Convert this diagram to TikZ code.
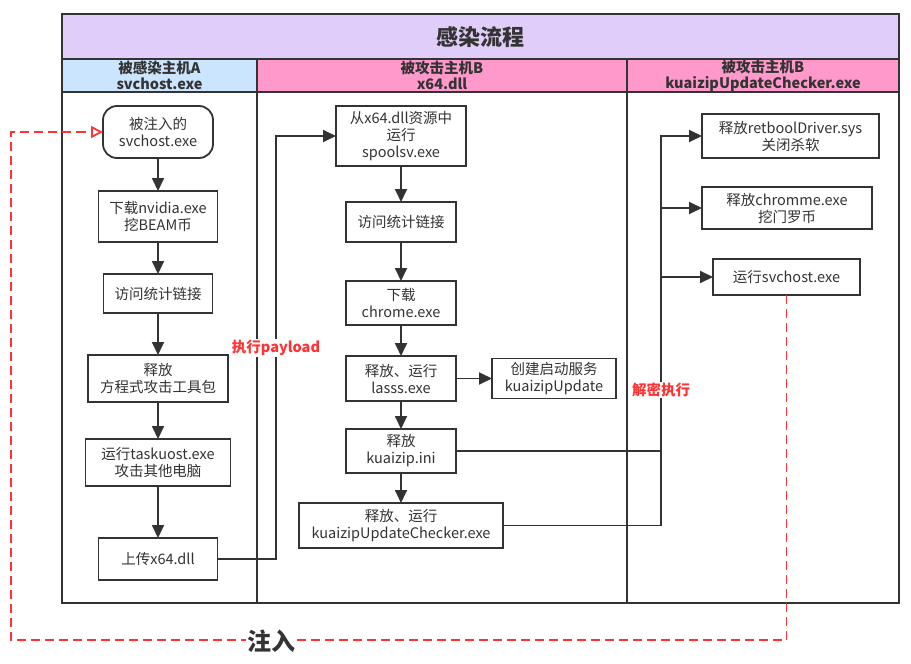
\documentclass[tikz,border=0pt]{standalone}
\usepackage{fontspec}
\setmainfont{Noto Sans CJK SC}
\usetikzlibrary{arrows.meta,positioning}
\definecolor{mypurple}{RGB}{225,205,250}
\definecolor{myblue}{RGB}{204,229,255}
\definecolor{mypink}{RGB}{255,153,204}
\definecolor{myred}{RGB}{255,51,51}
\definecolor{mydark}{RGB}{51,51,51}
\tikzset{
  stepbox/.style={rectangle, draw=mydark, line width=1.8pt, fill=white, align=center, inner sep=1pt, outer sep=0pt, text=mydark, font=\fontsize{14.5}{17}\selectfont},
  startbox/.style={stepbox, rounded corners=14pt},
  lane/.style={draw=mydark, line width=1.8pt},
  head/.style={align=center, inner sep=0pt, text=mydark, font=\fontsize{14.5}{16}\selectfont\bfseries},
  flow/.style={draw=mydark, line width=1.8pt, -{Triangle[length=13pt,width=12pt]}},
  wire/.style={draw=mydark, line width=1.8pt},
  inject/.style={draw=myred, line width=1.8pt, dash pattern=on 9pt off 5pt, -{Triangle[open,length=12pt,width=12pt]}},
  tag/.style={fill=white, inner sep=1pt, text=myred, font=\fontsize{14.5}{16}\selectfont\bfseries}
}

\begin{document}
\begin{tikzpicture}[x=1pt,y=-1pt]
\useasboundingbox (0,0) rectangle (911,664);

% lanes
\draw[lane, fill=mypurple] (62,14) rectangle (899,59);
\draw[lane, fill=myblue] (62,59) rectangle (257,92);
\draw[lane, fill=mypink] (257,59) rectangle (627,92);
\draw[lane, fill=mypink] (627,59) rectangle (899,92);
\draw[lane] (62,92) rectangle (257,603);
\draw[lane] (257,92) rectangle (627,603);
\draw[lane] (627,92) rectangle (899,603);

\node[text=mydark, font=\fontsize{22}{26}\selectfont\bfseries] (title) at (480.5,37) {感染流程};
\node[head] (hostA) at (159.5,75.5) {被感染主机A\\svchost.exe};
\node[head] (hostB) at (442,75.5) {被攻击主机B\\x64.dll};
\node[head] (hostC) at (763,75.5) {被攻击主机B\\kuaizipUpdateChecker.exe};

% host A
\node[startbox, minimum width=110pt, minimum height=52pt] (inj) at (158,132) {被注入的\\svchost.exe};
\node[stepbox, minimum width=119pt, minimum height=51pt, below=33pt of inj] (nvidia) {下载nvidia.exe\\挖BEAM币};
\node[stepbox, minimum width=109pt, minimum height=39pt, below=32pt of nvidia] (visitA) {访问统计链接};
\node[stepbox, minimum width=140pt, minimum height=47pt, below=42pt of visitA] (toolkit) {释放\\方程式攻击工具包};
\node[stepbox, minimum width=145pt, minimum height=47pt, below=37pt of toolkit] (taskuost) {运行taskuost.exe\\攻击其他电脑};
\node[stepbox, minimum width=119pt, minimum height=42pt, below=52pt of taskuost] (upload) {上传x64.dll};

% host B, x64.dll
\node[stepbox, minimum width=130pt, minimum height=60pt] (spool) at (401,136) {从x64.dll资源中\\运行\\spoolsv.exe};
\node[stepbox, minimum width=110pt, minimum height=40pt, below=36pt of spool] (visitB) {访问统计链接};
\node[stepbox, minimum width=110pt, minimum height=44pt, below=39pt of visitB] (chrome) {下载\\chrome.exe};
\node[stepbox, minimum width=110pt, minimum height=45pt, below=31pt of chrome] (lasss) {释放、运行\\lasss.exe};
\node[stepbox, minimum width=124pt, minimum height=40pt, right=36pt of lasss] (service) {创建启动服务\\kuaizipUpdate};
\node[stepbox, minimum width=110pt, minimum height=44pt, below=28pt of lasss] (ini) {释放\\kuaizip.ini};
\node[stepbox, minimum width=204pt, minimum height=45pt, below=30pt of ini] (checker) {释放、运行\\kuaizipUpdateChecker.exe};

% host B, checker
\node[stepbox, minimum width=177pt, minimum height=44pt] (retbool) at (790.5,136) {释放retboolDriver.sys\\关闭杀软};
\node[stepbox, minimum width=170pt, minimum height=42pt] (chromme) at (787,208) {释放chromme.exe\\挖门罗币};
\node[stepbox, minimum width=147pt, minimum height=36pt] (svc) at (786.5,277) {运行svchost.exe};

% arrows
\draw[flow] (inj) -- (nvidia);
\draw[flow] (nvidia) -- (visitA);
\draw[flow] (visitA) -- (toolkit);
\draw[flow] (toolkit) -- (taskuost);
\draw[flow] (taskuost) -- (upload);

\coordinate (relay) at (276,0);
\draw[flow] (upload.east) -- (upload.east -| relay) |- (spool.west);
\node[tag] (exec) at (276,348) {执行payload};

\draw[flow] (spool) -- (visitB);
\draw[flow] (visitB) -- (chrome);
\draw[flow] (chrome) -- (lasss);
\draw[flow] (lasss) -- (service);
\draw[flow] (lasss) -- (ini);
\draw[flow] (ini) -- (checker);

\coordinate (bus) at (661,0);
\draw[flow] (checker.east) -- (checker.east -| bus) |- (retbool.west);
\draw[wire] (ini.east) -- (ini.east -| bus);
\draw[flow] (bus |- chromme.west) -- (chromme.west);
\draw[flow] (bus |- svc.west) -- (svc.west);
\node[tag] (decrypt) at (661,390) {解密执行};

% injection loop
\coordinate (loop) at (11,640);
\draw[inject] (svc.south) -- (svc.south |- loop) -- (loop) |- (inj.west);
\node[fill=white, inner sep=1pt, text=mydark, font=\fontsize{24}{28}\selectfont\bfseries] (injlabel) at (271,641) {注入};

\end{tikzpicture}
\end{document}
